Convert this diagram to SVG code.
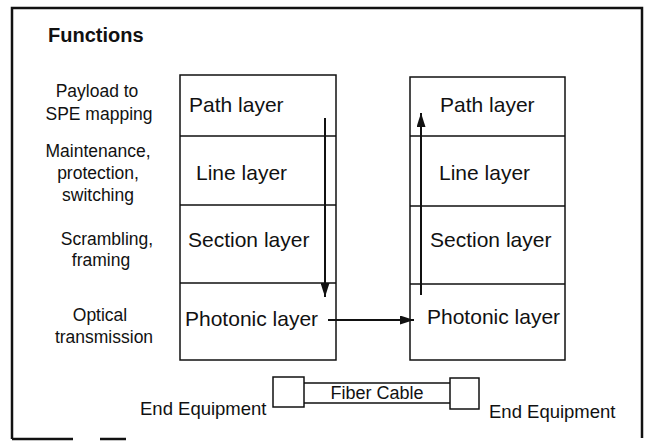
<svg xmlns="http://www.w3.org/2000/svg" width="647" height="441" viewBox="0 0 647 441">
<style>
text{font-family:"Liberation Sans",Arial,sans-serif;fill:#111}
.lbl{font-size:17.5px;text-anchor:middle}
.lay{font-size:21px}
.eq{font-size:18.5px}
.box{fill:none;stroke:#111;stroke-width:1.5}
.frame{fill:none;stroke:#111;stroke-width:2.5}
.conn{fill:none;stroke:#111;stroke-width:2}
</style>
<defs>
<marker id="ah" viewBox="0 0 14 9" refX="14" refY="4.5" markerWidth="7" markerHeight="4.5" orient="auto" markerUnits="strokeWidth">
<path d="M0,0 L14,4.5 L0,9 z" fill="#111"/>
</marker>
</defs>
<rect width="647" height="441" fill="#fff"/>
<g id="frame">
<path class="frame" d="M12,439 V8 H642 V438"/>
<path class="frame" d="M12,439 H73 M100,439 H126"/>
</g>
<g id="title"><text x="48" y="42" style="font-size:20px;font-weight:bold">Functions</text></g>
<g id="functions">
<text class="lbl" x="97" y="97">Payload to</text>
<text class="lbl" x="99" y="120">SPE mapping</text>
<text class="lbl" x="98" y="157">Maintenance,</text>
<text class="lbl" x="98" y="179">protection,</text>
<text class="lbl" x="98" y="201">switching</text>
<text class="lbl" x="107" y="245">Scrambling,</text>
<text class="lbl" x="101" y="266">framing</text>
<text class="lbl" x="100" y="321">Optical</text>
<text class="lbl" x="104" y="343">transmission</text>
</g>
<g id="left-stack">
<rect class="box" x="180" y="75" width="156" height="285"/>
<path class="box" d="M180,136 H336 M180,205 H336 M180,283 H336"/>
<text class="lay" x="189" y="112">Path layer</text>
<text class="lay" x="196" y="180">Line layer</text>
<text class="lay" x="188" y="247">Section layer</text>
<text class="lay" x="185" y="326">Photonic layer</text>
</g>
<g id="right-stack">
<rect class="box" x="410" y="77" width="155" height="283"/>
<path class="box" d="M410,136 H565 M410,206 H565 M410,284 H565"/>
<text class="lay" x="440" y="112">Path layer</text>
<text class="lay" x="439" y="180">Line layer</text>
<text class="lay" x="430" y="247">Section layer</text>
<text class="lay" x="427" y="324">Photonic layer</text>
</g>
<g id="equipment-left">
<rect class="box" x="273" y="377" width="31" height="30"/>
<text class="eq" x="140" y="415">End Equipment</text>
</g>
<g id="equipment-right">
<rect class="box" x="450" y="378" width="29" height="31"/>
<text class="eq" x="489" y="418">End Equipment</text>
</g>
<g id="fiber-cable">
<path class="box" d="M304,383 H450 M304,403 H450"/>
<text x="377" y="399" style="font-size:18px;text-anchor:middle">Fiber Cable</text>
</g>
<g id="connectors">
<path class="conn" d="M325,118 V297" marker-end="url(#ah)"/>
<path class="conn" d="M421,295 V113" marker-end="url(#ah)"/>
<path class="conn" d="M328,320 H414" marker-end="url(#ah)"/>
</g>
</svg>
